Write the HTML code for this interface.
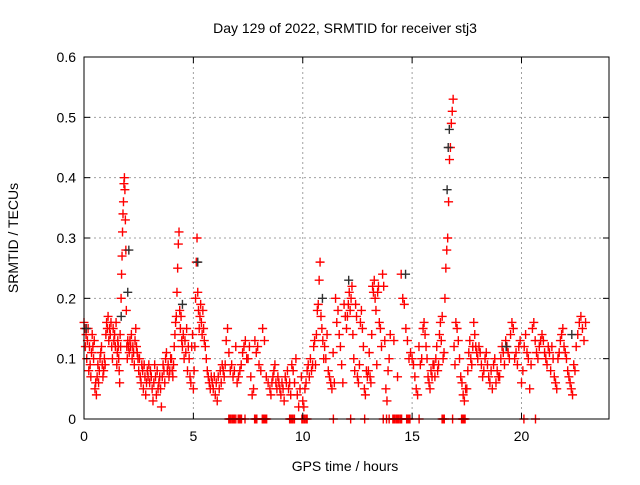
<!DOCTYPE html>
<html><head><meta charset="utf-8">
<style>
html,body{margin:0;padding:0;background:#fff;}
svg text{font-family:"Liberation Sans",sans-serif;font-size:14px;fill:#000;}
</style></head>
<body>
<svg id="chart" width="640" height="480" viewBox="0 0 640 480" xmlns="http://www.w3.org/2000/svg">
<rect width="640" height="480" fill="#fff"/>
<g id="grid"></g>
<g id="marks"></g>
<g id="axes"></g>
</svg>
<script>
const xTicks=[0,5,10,15,20];
const yTicks=[0,0.1,0.2,0.3,0.4,0.5,0.6];
const yTickLabels=["0","0.1","0.2","0.3","0.4","0.5","0.6"];
const segStarts=[0,0.5,1,1.5,2,2.5,3,3.5,4,4.5,5,5.5,6,6.5,7,7.5,8,8.5,9,9.5,10,10.5,11,11.5,12,12.5,13,13.5,14,14.5,15,15.5,16,16.5,17,17.5,18,18.5,19,19.5,20,20.5,21,21.5,22,22.5];
const segValues=[
[0.16,0.15,0.12,0.14,0.10,0.13,0.15,0.08,0.12,0.09,0.07,0.11,0.14,0.12,0.10,0.13],
[0.05,0.06,0.04,0.07,0.09,0.06,0.08,0.10,0.11,0.12,0.09,0.07,0.08,0.10,0.09],
[0.14,0.16,0.15,0.17,0.13,0.15,0.14,0.16,0.12,0.10,0.15,0.13,0.14,0.12,0.16],
[0.09,0.11,0.13,0.12,0.10,0.08,0.06,0.14,0.12,0.20,0.24,0.27,0.31,0.34,0.36,0.39,0.40,0.38,0.33,0.28,0.18,0.12,0.10],
[0.13,0.12,0.11,0.13,0.12,0.14,0.10,0.12,0.11,0.09,0.13,0.15,0.12,0.11,0.10],
[0.08,0.10,0.07,0.06,0.09,0.08,0.05,0.09,0.07,0.04,0.06,0.08,0.07,0.09],
[0.06,0.08,0.07,0.05,0.03,0.06,0.09,0.07,0.04,0.08,0.05,0.06,0.07],
[0.05,0.02,0.07,0.09,0.08,0.06,0.10,0.11,0.08,0.09,0.07,0.08,0.10],
[0.10,0.08,0.07,0.09,0.12,0.14,0.16,0.17,0.21,0.25,0.29,0.31,0.18,0.15,0.17,0.13],
[0.12,0.14,0.10,0.13,0.11,0.15,0.08,0.12,0.10,0.07,0.06,0.12,0.14],
[0.05,0.08,0.12,0.20,0.26,0.30,0.21,0.18,0.15,0.17,0.19,0.16,0.14,0.18,0.15],
[0.13,0.12,0.10,0.08,0.07,0.06,0.05,0.07,0.06,0.05,0.07],
[0.04,0.06,0.03,0.07,0.05,0.08,0.06,0.09,0.08,0.07,0.09],
[0.13,0.15,0.11,0.08,0.09,0.07,0.08,0.12],
[0.06,0.07,0.08,0.09,0.11,0.12,0.13,0.10],
[0.10,0.12,0.07,0.04,0.05,0.13,0.11,0.12],
[0.09,0.08,0.15,0.13,0.07,0.06],
[0.05,0.04,0.06,0.07,0.08,0.09,0.06,0.05,0.07,0.06,0.05],
[0.04,0.06,0.05,0.03,0.07,0.06,0.08,0.05,0.06,0.04],
[0.09,0.08,0.06,0.10,0.04,0.02,0.05,0.07],
[0.03,0.02,0.05,0.06,0.08,0.09,0.07,0.10,0.08,0.09],
[0.12,0.13,0.09,0.14,0.18,0.19,0.23,0.26,0.17,0.15,0.13,0.10],
[0.12,0.10,0.14,0.08,0.07,0.06,0.05,0.11,0.06],
[0.20,0.16,0.18,0.14,0.12,0.09,0.06,0.19,0.17],
[0.15,0.17,0.19,0.21,0.18,0.20,0.22,0.14,0.10,0.08,0.19,0.17],
[0.07,0.06,0.09,0.16,0.18,0.15,0.12,0.05,0.04,0.08,0.07],
[0.08,0.11,0.07,0.06,0.14,0.22,0.21,0.23,0.20,0.18,0.09,0.21,0.22],
[0.16,0.15,0.12,0.24,0.22,0.13,0.05,0.03,0.08,0.10],
[0.14,0.13,0.07],
[0.24,0.20,0.19,0.15,0.13,0.10,0.11],
[0.10,0.09,0.07,0.05,0.04,0.12,0.09,0.10],
[0.15,0.16,0.14,0.12,0.10,0.07,0.06,0.05,0.08,0.07,0.09],
[0.09,0.07,0.10,0.12,0.08,0.09,0.14,0.16,0.13,0.17,0.10,0.11],
[0.20,0.25,0.28,0.30,0.36,0.43,0.45,0.49,0.51,0.53,0.12,0.09],
[0.16,0.15,0.13,0.10,0.07,0.06,0.04,0.03,0.05],
[0.05,0.08,0.11,0.13,0.10,0.09,0.12,0.16,0.14,0.12,0.11],
[0.10,0.12,0.11,0.09,0.07,0.08,0.10,0.11,0.09],
[0.07,0.06,0.08,0.05,0.09,0.10,0.06,0.08,0.07],
[0.07,0.10,0.12,0.11,0.09,0.13,0.12,0.11,0.10],
[0.14,0.16,0.15,0.10,0.11,0.09,0.12,0.13],
[0.06,0.08,0.12,0.14,0.11,0.10,0.05,0.09],
[0.15,0.16,0.13,0.11,0.10,0.12,0.13,0.14],
[0.13,0.11,0.10,0.09,0.12,0.11,0.08,0.12,0.10],
[0.07,0.06,0.05,0.10,0.11,0.13,0.14,0.15,0.12],
[0.11,0.10,0.08,0.07,0.06,0.05,0.04,0.09,0.08],
[0.12,0.14,0.16,0.17,0.15,0.13,0.16]
];
const darkTimes=[0.1,1.7,2.0,2.05,4.5,5.2,10.9,12.1,14.7,16.6,16.65,16.7,19.3,22.3];
const darkValues=[0.15,0.17,0.21,0.28,0.19,0.26,0.20,0.23,0.24,0.38,0.45,0.48,0.12,0.14];
const zeroTimes=[6.62,6.67,6.72,6.78,6.83,6.88,6.94,7.05,7.1,7.15,7.2,7.36,7.8,7.85,7.9,8.15,8.2,8.25,8.3,8.35,9.4,9.45,9.5,9.56,9.62,9.96,10.02,10.08,10.14,10.2,11.4,12.19,12.83,13.68,13.83,13.95,14.12,14.17,14.22,14.28,14.33,14.38,14.44,14.49,14.52,14.75,14.8,14.85,14.9,15.32,16.37,16.42,16.47,16.85,17.26,17.3,17.34,17.38,17.42,20.11,20.64];

const X0=84,X1=609,Y0=419,Y1=57;
const xs=h=>X0+h/24*(X1-X0);
const ys=v=>Y0-v/0.6*(Y0-Y1);
const NS="http://www.w3.org/2000/svg";
const grid=document.getElementById('grid'),marks=document.getElementById('marks'),axes=document.getElementById('axes');
function mk(tag,attrs,parent){const e=document.createElementNS(NS,tag);for(const k in attrs)e.setAttribute(k,attrs[k]);parent.appendChild(e);return e;}

xTicks.forEach((t,i)=>{
  const x=xs(t);
  if(t>0){const g=mk('line',{x1:x,y1:Y0,x2:x,y2:Y1,stroke:'#a0a0a0','stroke-dasharray':'2,3'},grid);
  
  }
  mk('line',{x1:x,y1:Y0,x2:x,y2:Y0-6,stroke:'#000'},axes);
  mk('line',{x1:x,y1:Y1,x2:x,y2:Y1+6,stroke:'#000'},axes);
  const tx=mk('text',{x:x,y:Y0+22,'text-anchor':'middle'},axes);
  tx.textContent=String(t);
  
  
});
yTicks.forEach((t,i)=>{
  const y=ys(t);
  if(t>0&&t<0.6){const g=mk('line',{x1:X0,y1:y,x2:X1,y2:y,stroke:'#a0a0a0','stroke-dasharray':'2,3'},grid);
  
  }
  mk('line',{x1:X0,y1:y,x2:X0+6,y2:y,stroke:'#000'},axes);
  mk('line',{x1:X1,y1:y,x2:X1-6,y2:y,stroke:'#000'},axes);
  const tx=mk('text',{x:X0-8,y:y+5,'text-anchor':'end'},axes);
  tx.textContent=yTickLabels[i];
  
  
});
const frame=mk('rect',{x:X0,y:Y1,width:X1-X0,height:Y0-Y1,fill:'none',stroke:'#000'},axes);



function plus(x,y,color,name){
  const p=mk('path',{d:`M${x-4.5},${y}h9M${x},${y-4.5}v9`,stroke:color,'stroke-width':1.4,fill:'none'},marks);
  
  
}
segStarts.forEach((s,i)=>{
  const vals=segValues[i];
  vals.forEach((v,j)=>plus(xs(s+0.5*j/vals.length),ys(v),'#ff0000','srmtid-point'));
});
darkTimes.forEach((t,i)=>plus(xs(t),ys(darkValues[i]),'#303030','srmtid-point-dark'));
zeroTimes.forEach(t=>plus(xs(t),ys(0),'#ff0000','zero-point'));

const title=mk('text',{x:345,y:33,'text-anchor':'middle'},axes);
title.textContent='Day 129 of 2022, SRMTID for receiver stj3';


const xl=mk('text',{x:345,y:471,'text-anchor':'middle'},axes);
xl.textContent='GPS time / hours';


const yl=mk('text',{x:18,y:238,'text-anchor':'middle',transform:'rotate(-90 18 238)'},axes);
yl.textContent='SRMTID / TECUs';


</script>
</body></html>
